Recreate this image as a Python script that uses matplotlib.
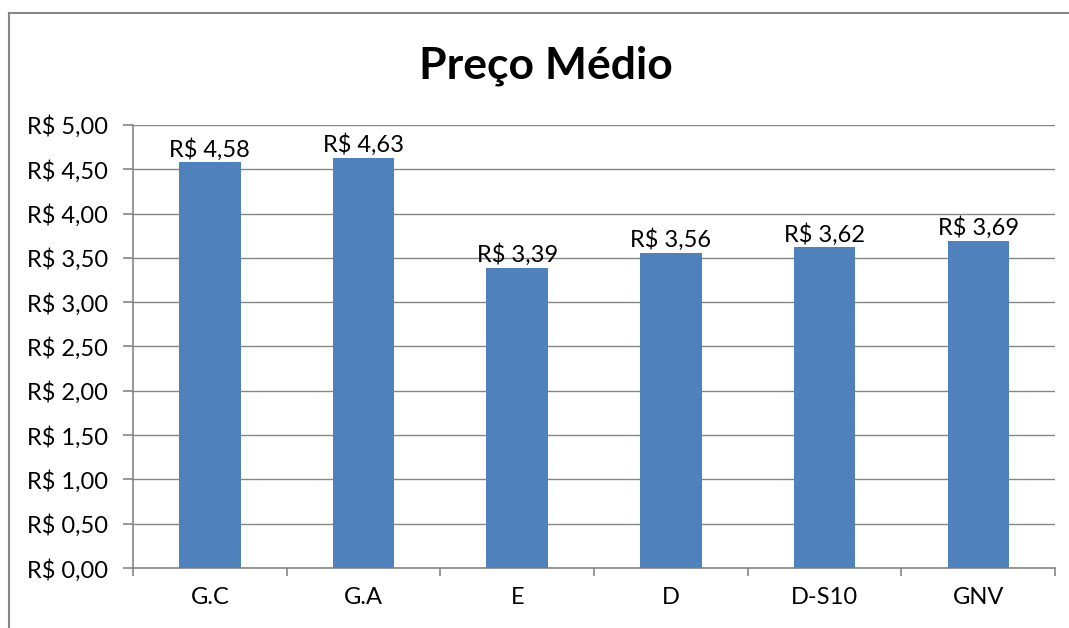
import matplotlib.pyplot as plt
from matplotlib.lines import Line2D

categories = ['G.C', 'G.A', 'E', 'D', 'D-S10', 'GNV']
precos = [4.58, 4.63, 3.39, 3.56, 3.62, 3.69]
yticks = [0.0, 0.5, 1.0, 1.5, 2.0, 2.5, 3.0, 3.5, 4.0, 4.5, 5.0]


def brl(v):
    return 'R$ ' + f'{v:.2f}'.replace('.', ',')


plt.rcParams['font.family'] = ['Lato', 'DejaVu Sans']

fig = plt.figure(figsize=(10.69, 6.28), dpi=100)
ax = fig.add_axes([0.1244, 0.0955, 0.8626, 0.7055])

x = range(len(categories))
bars = ax.bar(x, precos, width=0.40, color='#4F81BD', zorder=3)
for xi, v in zip(x, precos):
    ax.text(xi, v + 0.02, brl(v), ha='center', va='bottom', fontsize=17, zorder=4)

ax.set_xlim(-0.5, len(categories) - 0.5)
ax.set_ylim(0, 5)
ax.set_yticks(yticks)
ax.set_yticklabels([brl(v) for v in yticks], fontsize=17)
ax.set_xticks(list(x))
ax.set_xticklabels(categories, fontsize=17)
ax.tick_params(axis='x', length=0, pad=14)
ax.tick_params(axis='y', length=7, width=1.2, color='#868686', pad=11)
# separators between categories
ax.set_xticks([i - 0.5 for i in range(len(categories) + 1)], minor=True)
ax.tick_params(axis='x', which='minor', length=6, width=1.2, color='#868686')

ax.yaxis.grid(True, color='#868686', linewidth=1.0, zorder=0)
for side in ['top', 'right']:
    ax.spines[side].set_visible(False)
for side in ['left', 'bottom']:
    ax.spines[side].set_color('#868686')
    ax.spines[side].set_linewidth(1.2)

fig.text(0.511, 0.895, 'Preço Médio', ha='center', va='center', fontsize=32, fontweight='bold')

# outer chart border (left and top visible)
fig.add_artist(Line2D([9 / 1069, 9 / 1069], [0, 1 - 13 / 628], color='#868686', linewidth=1.5))
fig.add_artist(Line2D([9 / 1069, 1], [1 - 13 / 628, 1 - 13 / 628], color='#868686', linewidth=1.5))

fig.savefig('out.png', dpi=100, facecolor='white')
